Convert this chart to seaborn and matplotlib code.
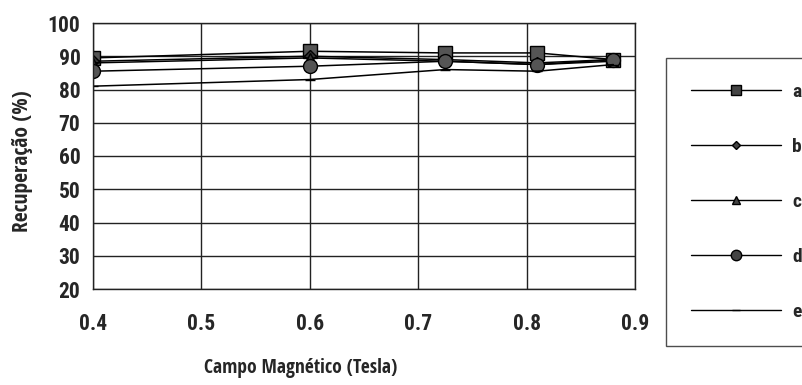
import matplotlib
matplotlib.use("Agg")
import matplotlib.pyplot as plt
from matplotlib import font_manager
import seaborn as sns
import pandas as pd
from matplotlib.lines import Line2D

# Data
campo = [0.4, 0.6, 0.725, 0.81, 0.88]
serie_a = [89.5, 91.5, 91.0, 91.0, 89.0]
serie_b = [88.5, 90.0, 89.0, 88.0, 89.0]
serie_c = [88.0, 89.5, 88.5, 87.5, 88.5]
serie_d = [85.5, 87.0, 88.5, 87.5, 89.0]
serie_e = [81.0, 83.0, 86.0, 85.5, 87.5]
labels = ["a", "b", "c", "d", "e"]
xticks = [0.4, 0.5, 0.6, 0.7, 0.8, 0.9]
yticks = [20, 30, 40, 50, 60, 70, 80, 90, 100]

series = [serie_a, serie_b, serie_c, serie_d, serie_e]
rows = []
for lab, vals in zip(labels, series):
    for x, y in zip(campo, vals):
        rows.append({"campo": x, "rec": y, "serie": lab})
df = pd.DataFrame(rows)

sns.set_theme(style="white")
plt.rcParams["font.family"] = ["DejaVu Sans"]

# font discovery: narrow bold faces if available
ttf = font_manager.fontManager.ttflist
names = {f.name for f in ttf}


def narrow_props(prefs, size):
    for cand in prefs:
        if cand in names:
            return font_manager.FontProperties(family=cand, weight="bold", size=size)
    for fam in ["DejaVu Sans", "Noto Sans", "Open Sans", "Roboto"]:
        for f in ttf:
            st = str(f.stretch)
            if f.name == fam and st in ("condensed", "semi-condensed", "extra-condensed"):
                return font_manager.FontProperties(family=fam, weight="bold", stretch=st, size=size)
    return None


tick_fp = narrow_props(["Liberation Sans Narrow", "Roboto Condensed", "Arial Narrow",
                        "Open Sans Condensed", "Noto Sans Condensed"], 15.5)
if tick_fp is None:
    tick_fp = font_manager.FontProperties(family="Liberation Sans", weight="bold", size=14)
labx_fp = narrow_props(["Open Sans Condensed", "Noto Sans Condensed", "Roboto Condensed",
                        "Liberation Sans Narrow"], 14)
if labx_fp is None:
    labx_fp = font_manager.FontProperties(family="Lato", weight="bold", size=13)
laby_fp = labx_fp.copy()
laby_fp.set_size(15.5)
leg_fp = tick_fp.copy()
leg_fp.set_size(14)

fig = plt.figure(figsize=(8.03, 3.85), dpi=100)
ax = fig.add_axes([93/803, 1-289/385, (635-93)/803, (289-23)/385])

markers = {"a": "s", "b": "D", "c": "^", "d": "o", "e": "_"}
msizes = {"a": 10, "b": 6, "c": 7, "d": 10, "e": 7}
for lab in labels:
    sub = df[df.serie == lab]
    sns.lineplot(data=sub, x="campo", y="rec", ax=ax, color="black", lw=1.1,
                 marker=markers[lab], markersize=msizes[lab],
                 markerfacecolor="#555555" if lab in ("a", "d") else "#333333",
                 markeredgecolor="black", markeredgewidth=1.0, legend=False)

ax.set_xlim(0.4, 0.9)
ax.set_ylim(20, 100)
ax.set_xticks(xticks)
ax.set_yticks(yticks)
ax.grid(True, color="#222222", lw=1.0)
for s in ax.spines.values():
    s.set_color("#222222")
    s.set_linewidth(1.0)

ax.set_xticklabels([f"{v:.1f}" for v in xticks], fontproperties=tick_fp)
ax.set_yticklabels([str(v) for v in yticks], fontproperties=tick_fp)
ax.tick_params(axis="x", length=0, pad=17)
ax.tick_params(axis="y", length=0, pad=9)
ax.set_xlabel("")
ax.set_ylabel("")

fig.text(301/803, 1-368/385, "Campo Magnético (Tesla)", ha="center", va="center",
         fontproperties=labx_fp)
fig.text(23/803, 1-161/385, "Recuperação (%)", ha="center", va="center", rotation=90,
         fontproperties=laby_fp)

# Legend
handles = []
for lab in labels:
    handles.append(Line2D([], [], color="black", lw=1.0, marker=markers[lab],
                          markersize=msizes[lab] * 0.75,
                          markerfacecolor="#444444", markeredgecolor="black"))
leg = fig.legend(handles, labels, loc="upper left",
                 bbox_to_anchor=(666/803, 1-343/385, 0.3, (343-58)/385),
                 bbox_transform=fig.transFigure, mode="expand",
                 frameon=True, fancybox=False, handlelength=4.6, handletextpad=0.6,
                 labelspacing=1.9, borderpad=1.3, borderaxespad=0,
                 prop=leg_fp)
leg.get_frame().set_edgecolor("#222222")
leg.get_frame().set_linewidth(1.0)

fig.savefig("out.png", dpi=100)
